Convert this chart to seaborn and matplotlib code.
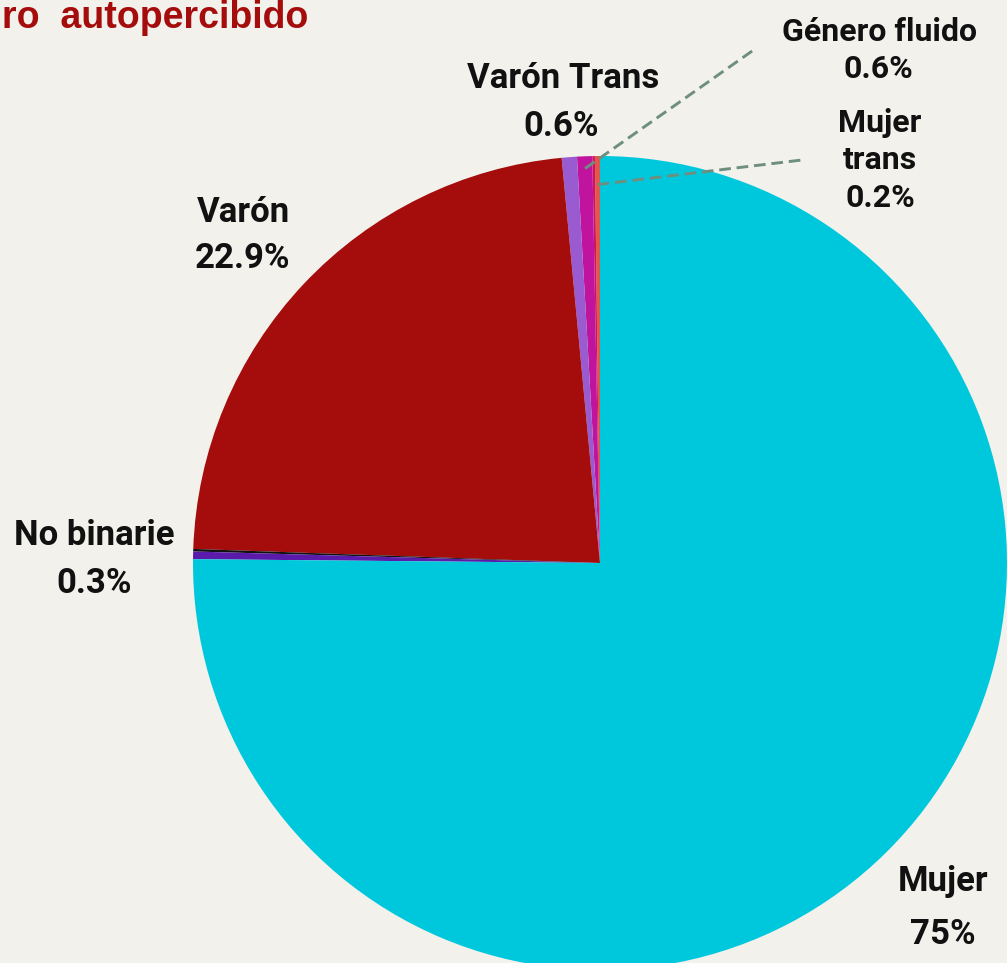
import numpy as np
import matplotlib
matplotlib.use("Agg")
import matplotlib.pyplot as plt
import seaborn as sns

# datos (porcentajes)
categorias = ["Mujer trans", "Otro 1", "Género fluido", "Varón Trans", "Varón", "Otro 2", "No binarie", "Mujer"]
valores = [0.2, 0.1, 0.6, 0.6, 22.9, 0.1, 0.3, 75.0]
etiquetas = ["0.2%", "", "0.6%", "0.6%", "22.9%", "", "0.3%", "75%"]
colores = ["#E2574A", "#D0125E", "#C0139E", "#9B5BD0", "#A50D0D", "#111111", "#5B1BAA", "#00C8DC"]
titulo = "ro  autopercibido"  # parte visible del titulo

bg = "#F2F1EC"
sns.set_style("white")
plt.rcParams['font.family'] = ['Roboto', 'DejaVu Sans']

fig = plt.figure(figsize=(10.07, 9.63), dpi=100, facecolor=bg)
ax = fig.add_axes([0, 0, 1, 1])
ax.set_facecolor(bg)

cx, cy, R = 600, 563, 407
# pie dibuja con y hacia arriba; uso y negativa para coordenadas de imagen
wedges, _ = ax.pie(valores, colors=colores, startangle=90, counterclock=True,
                   center=(cx, -cy), radius=R, wedgeprops=dict(linewidth=0))
ax.set_xlim(0, 1007)
ax.set_ylim(-963, 0)
ax.set_aspect("equal", adjustable="box")
ax.axis("off")


def texto(x, y, s, size):
    ax.text(x, -y, s, ha="center", va="baseline", fontsize=size,
            fontweight="bold", color="#111111")


def punto(w, frac):
    ang = np.deg2rad((w.theta1 + w.theta2) / 2)
    return cx + R * frac * np.cos(ang), -cy + R * frac * np.sin(ang)


# titulo
ax.text(2, -28, titulo, ha="left", va="baseline", fontsize=27,
        fontweight="bold", color="#A50D0D", family=["Liberation Sans", "DejaVu Sans"])

# etiquetas
texto(563, 88, "Varón Trans", 25)
texto(561, 136, etiquetas[3], 25)
texto(880, 41, "Género fluido", 23)
texto(878, 78, etiquetas[2], 23)
texto(880, 132, "Mujer", 23)
texto(880, 169, "trans", 23)
texto(880, 207, etiquetas[0], 23)
texto(243, 222, "Varón", 25)
texto(243, 268, etiquetas[4], 25)
texto(94, 545, "No binarie", 25)
texto(94, 593, etiquetas[6], 25)
texto(943, 891, "Mujer", 25)
texto(943, 944, etiquetas[7], 25)

# lineas guia
linea = dict(color="#6E8F80", lw=2.1, ls=(0, (4, 2)))
x0, y0 = punto(wedges[2], 0.97)
ax.plot([x0, 755], [y0, -49], **linea)
x1, y1 = punto(wedges[0], 0.93)
ax.plot([x1, 802], [y1, -160], **linea)

fig.savefig("out.png", dpi=100, facecolor=bg)
